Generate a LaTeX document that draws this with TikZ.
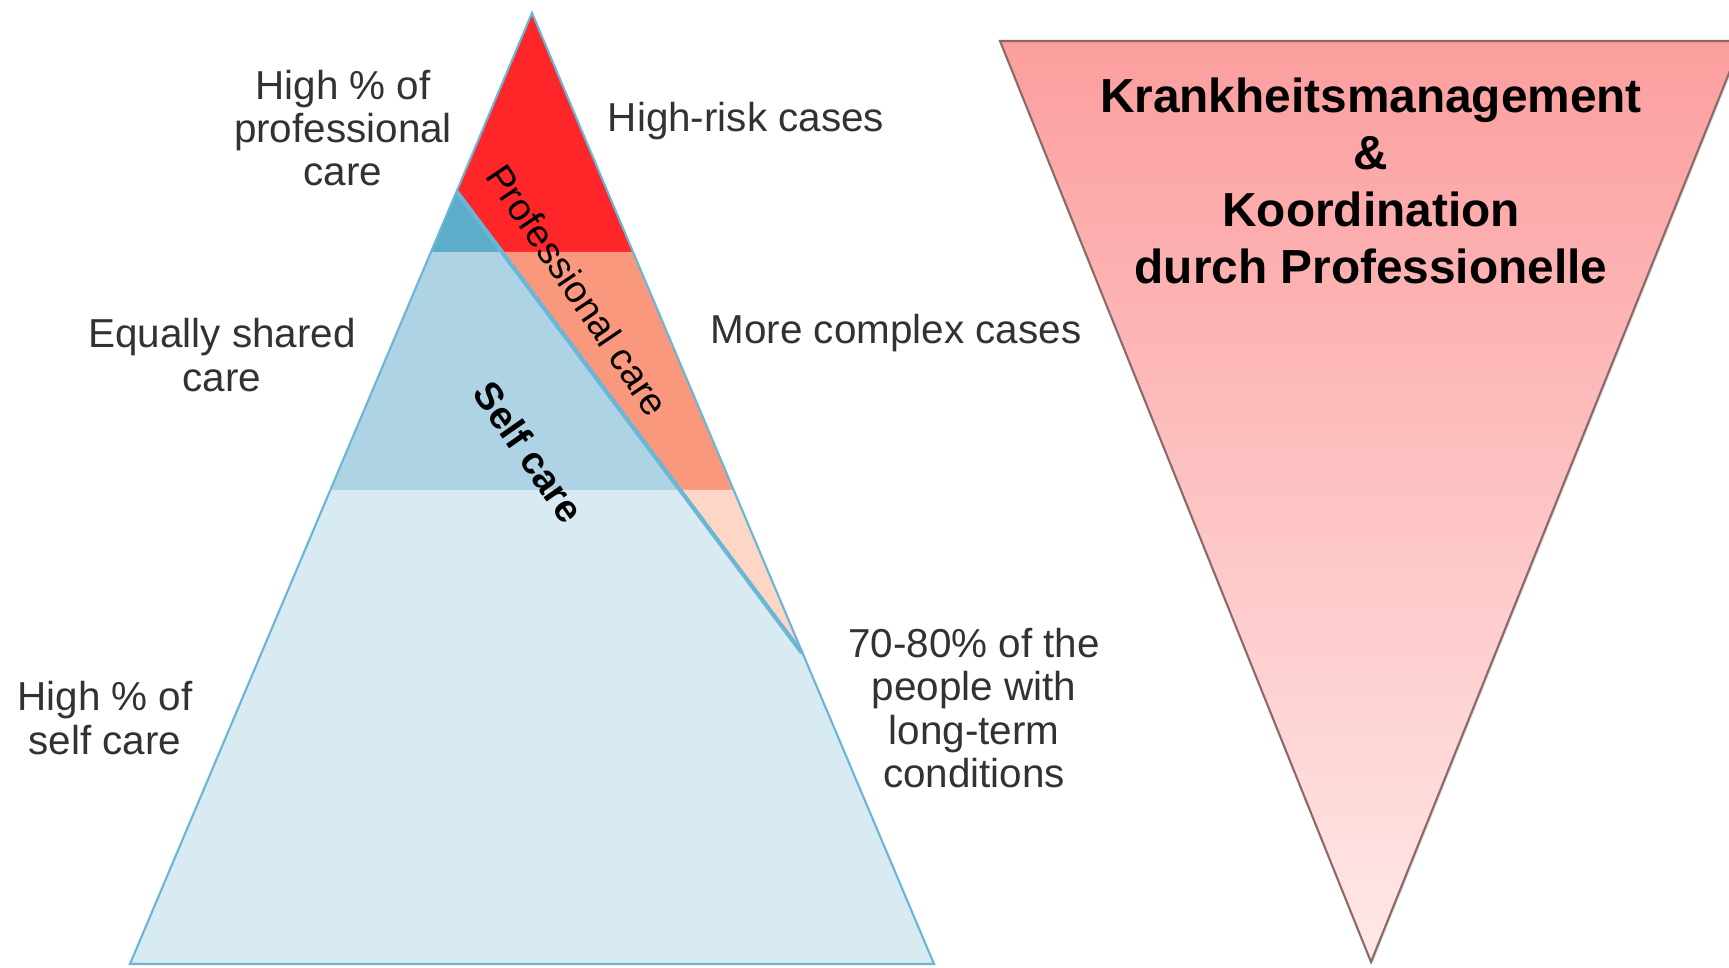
\documentclass[tikz,border=0pt]{standalone}
\usepackage{fontspec}
\setmainfont{Liberation Sans}
\usetikzlibrary{shadows}
\definecolor{riskred}{RGB}{254,38,40}
\definecolor{salmon}{RGB}{250,152,126}
\definecolor{peach}{RGB}{253,214,198}
\definecolor{darkblue}{RGB}{92,172,202}
\definecolor{midblue}{RGB}{174,211,228}
\definecolor{paleblue}{RGB}{216,234,242}
\definecolor{edgeblue}{RGB}{105,182,214}
\definecolor{labgray}{RGB}{50,50,50}
\tikzset{lab/.style={align=center, text=labgray, inner sep=0pt,
    font=\fontsize{11.5}{12.3}\selectfont}}

\begin{document}
\begin{tikzpicture}
\clip (0,0) rectangle (17.29,9.68);

% pyramid bands
\fill[paleblue](3.31,4.78)--(6.80,4.78)--(8.02,3.15)--(9.34,0.04)--(1.30,0.04)--cycle;
\fill[midblue](4.31,7.16)--(5.02,7.16)--(6.80,4.78)--(3.31,4.78)--cycle;
\fill[darkblue](4.57,7.76)--(5.02,7.16)--(4.31,7.16)--cycle;
\fill[riskred](5.32,9.55)--(4.57,7.76)--(5.02,7.16)--(6.33,7.16)--cycle;
\fill[salmon](5.02,7.16)--(6.33,7.16)--(7.33,4.78)--(6.80,4.78)--cycle;
\fill[peach](6.80,4.78)--(7.33,4.78)--(8.02,3.15)--cycle;
\draw[edgeblue, line width=.6pt](5.32,9.55)--(9.34,0.04)--(1.30,0.04)--cycle;
\draw[edgeblue, line width=1.2pt](4.57,7.76)--(8.02,3.15);

\node[lab, rotate=-56, text=black, font=\fontsize{10.8}{12}\selectfont] (pro) at (5.78,6.78) {Professional care};
\node[lab, rotate=-55, text=black, font=\fontsize{11}{12}\selectfont\bfseries] (slf) at (5.29,5.16) {Self care};

% side labels
\node[lab] (hpc) at (3.43,8.40) {High \% of\\professional\\care};
\node[lab] (hrc) at (7.46,8.47) {High-risk cases};
\node[lab] (esc) at (2.22,6.13) {Equally shared\\care};
\node[lab] (mcc) at (8.96,6.35) {More complex cases};
\node[lab] (ppl) at (9.74,2.60) {70-80\% of the\\people with\\long-term\\conditions};
\node[lab] (hsc) at (1.05,2.50) {High \% of\\self care};

% funnel
\draw[top color={rgb,255:red,252;green,158;blue,158}, bottom color={rgb,255:red,255;green,232;blue,232},
    draw={rgb,255:red,140;green,105;blue,105}, line width=.6pt,
    drop shadow={opacity=.25, shadow xshift=.4pt, shadow yshift=-.6pt}]
    (10.00,9.27)--(17.42,9.27)--(13.71,0.06)--cycle;
\node[align=center, font=\fontsize{13.6}{16.2}\selectfont\bfseries] (km) at (13.71,7.87)
    {Krankheitsmanagement\\\&\\Koordination\\durch Professionelle};
\end{tikzpicture}
\end{document}
